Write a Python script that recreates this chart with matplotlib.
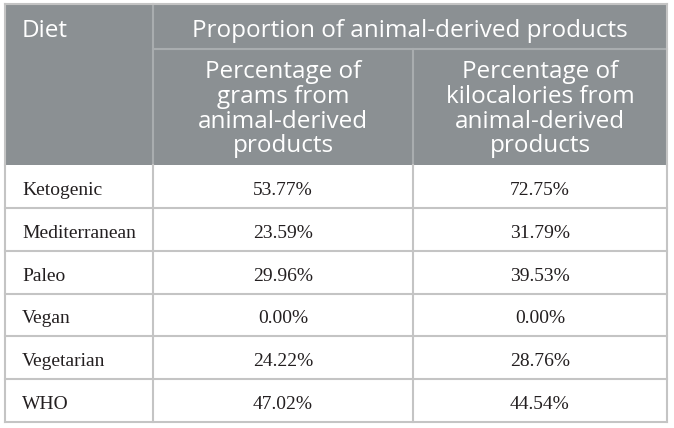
import matplotlib.pyplot as plt
from matplotlib.patches import Rectangle

diets = ['Ketogenic', 'Mediterranean', 'Paleo', 'Vegan', 'Vegetarian', 'WHO']
grams_pct = [53.77, 23.59, 29.96, 0.00, 24.22, 47.02]
kcal_pct = [72.75, 31.79, 39.53, 0.00, 28.76, 44.54]
top_header = 'Proportion of animal-derived products'
first_col_header = 'Diet'
sub_headers = [
    ['Percentage of', 'grams from', 'animal-derived', 'products'],
    ['Percentage of', 'kilocalories from', 'animal-derived', 'products'],
]

W, H = 674, 428
fig = plt.figure(figsize=(W / 100, H / 100), dpi=100)
ax = fig.add_axes([0, 0, 1, 1])
ax.set_xlim(0, W)
ax.set_ylim(H, 0)
ax.axis('off')

# layout (pixels)
x0, x1, x2, x3 = 5, 153, 413, 667
y_top, y_mid, y_head = 4, 49, 165
row_h = (422 - y_head) / len(diets)

hdr_col = '#8b9093'
hdr_line = '#a9adaf'
line_col = '#c4c4c4'

ax.add_patch(Rectangle((x0, y_top), x3 - x0, y_head - y_top, color=hdr_col, lw=0))

# header grid lines
ax.plot([x1, x1], [y_top, y_head], color=hdr_line, lw=1.5)
ax.plot([x1, x3], [y_mid, y_mid], color=hdr_line, lw=1.5)
ax.plot([x2, x2], [y_mid, y_head], color=hdr_line, lw=1.5)
ax.plot([x0, x3], [y_top, y_top], color=line_col, lw=1.5)

hfont = dict(family=['Open Sans', 'DejaVu Sans'], color='white', fontsize=17.5)
ax.text(22, 37, first_col_header, ha='left', va='baseline', **hfont)
ax.text((x1 + x3) / 2, 37, top_header, ha='center', va='baseline', **hfont)
baselines = [78, 103, 128, 152]
for cx, lines in zip([(x1 + x2) / 2, (x2 + x3) / 2], sub_headers):
    for yb, t in zip(baselines, lines):
        ax.text(cx, yb, t, ha='center', va='baseline', **hfont)

# body
bfont = dict(family=['Liberation Serif', 'DejaVu Serif'], color='#231f20', fontsize=14)
for i, (d, g, k) in enumerate(zip(diets, grams_pct, kcal_pct)):
    yc = y_head + (i + 0.5) * row_h
    yb = yc + 8.5
    ax.text(22, yb, d, ha='left', va='baseline', **bfont)
    ax.text((x1 + x2) / 2, yb, f'{g:.2f}%', ha='center', va='baseline', **bfont)
    ax.text((x2 + x3) / 2, yb, f'{k:.2f}%', ha='center', va='baseline', **bfont)
    ax.plot([x0, x3], [y_head + (i + 1) * row_h] * 2, color=line_col, lw=1.5)

y_bot = y_head + len(diets) * row_h
for xv in [x0, x1, x2, x3]:
    ax.plot([xv, xv], [y_head, y_bot], color=line_col, lw=1.5)
ax.plot([x0, x0], [y_top, y_head], color=line_col, lw=1.5)
ax.plot([x3, x3], [y_top, y_head], color=line_col, lw=1.5)

fig.savefig('out.png', dpi=100)
